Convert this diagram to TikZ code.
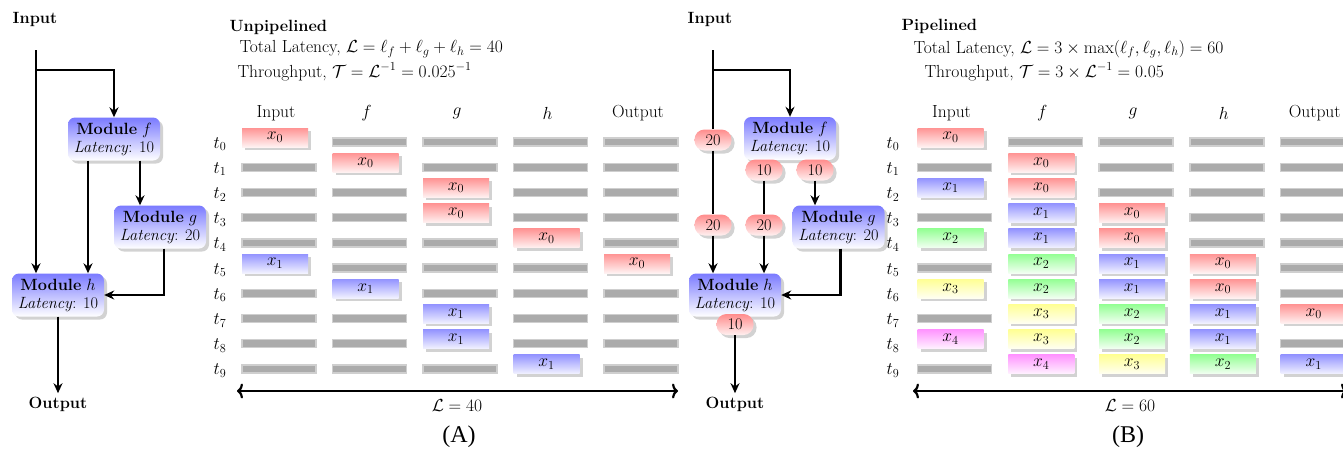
\RequirePackage{fix-cm}
\documentclass[tikz,border=0pt]{standalone}
\usepackage{fontspec}
\newfontfamily\capfont{Liberation Serif}
\usetikzlibrary{arrows.meta,shadows}
\newcommand{\basefont}{\fontsize{17.5}{19}\selectfont}
\newcommand{\modfont}{\fontsize{16.3}{18}\selectfont}
\tikzset{
  wire/.style={line width=2.6pt},
  conn/.style={wire, -{Stealth[length=10pt,width=9pt]}},
  shad/.style={drop shadow={shadow xshift=3pt, shadow yshift=-3pt, opacity=0.35}},
  module/.style={shad, rounded corners=7pt, top color=blue!52, bottom color=white,
    minimum width=92pt, minimum height=43pt, align=center, inner sep=3pt, font=\modfont},
  pill/.style={shad, rounded corners=10pt, top color=red!45, bottom color=red!6,
    minimum width=37pt, minimum height=21pt, inner sep=1pt, font=\modfont},
  bar/.style={fill=gray!66, draw=gray!38, line width=1.4pt, minimum width=74pt,
    minimum height=8pt, inner sep=0pt},
  tokbase/.style={shad, minimum width=66pt, minimum height=19pt, inner sep=0pt},
  tok/.style={tokbase, top color=#1!42, bottom color=#1!5},
  lbl/.style={font=\modfont\bfseries},
  span/.style={line width=2.2pt,
    {Computer Modern Rightarrow[length=6pt,width=15pt]}-{Computer Modern Rightarrow[length=6pt,width=15pt]}},
  panelcap/.style={font=\capfont\fontsize{24}{28}\selectfont},
}
\begin{document}
\begin{tikzpicture}[x=1pt, y=-1pt, font=\basefont]
\useasboundingbox[fill=white] (0,0) rectangle (1343,448);

% ---------------- Panel A: graph ----------------
\node[lbl] (inlA) at (35,19) {Input};
\node[module] (fA) at (114,139) {\textbf{Module} $f$\\\textit{Latency}: 10};
\node[module] (gA) at (160,227) {\textbf{Module} $g$\\\textit{Latency}: 20};
\node[module] (hA) at (58,295) {\textbf{Module} $h$\\\textit{Latency}: 10};
\node[lbl] (outA) at (58,404) {Output};
\coordinate (inA) at (36,50);
\coordinate (brA) at (36,70);
\draw[conn] (inA) -- (inA |- hA.north);
\draw[conn] (brA) -| (fA.north);
\draw[conn] ([xshift=-26pt]fA.south) -- ([xshift=-26pt]fA.south |- hA.north);
\draw[conn] ([xshift=26pt]fA.south) -- ([xshift=26pt]fA.south |- gA.north);
\draw[conn] ([xshift=4pt]gA.south) |- (hA.east);
\draw[conn] (hA.south) -- (outA.north);

% ---------------- Panel A: timeline ----------------
\node[lbl, anchor=west] (unp) at (226,27) {Unpipelined};
\node[anchor=west] (latA) at (236,49) {Total Latency, $\mathcal{L}=\ell_f+\ell_g+\ell_h=40$};
\node[anchor=west] (thrA) at (234,72) {Throughput, $\mathcal{T}=\mathcal{L}^{-1}=0.025^{-1}$};
\foreach \c/\t in {0/Input,1/$f$,2/$g$,3/$h$,4/Output}
  \node (hdA\c) at ({276+90.5*\c},113) {\t};
\foreach \r in {0,...,9}
  \node (tA\r) at (220,{144+25.2*\r}) {$t_{\r}$};
\foreach \c/\rows in {0/{1,2,3,4,6,7,8,9},1/{0,2,3,4,5,7,8,9},2/{0,1,4,5,6,9},3/{0,1,2,3,5,6,7,8},4/{0,1,2,3,4,6,7,8,9}}
  \foreach \r in \rows
    \node[bar] (barA\c-\r) at ({279+90.5*\c},{142+25.2*\r}) {};
\foreach \c/\r/\k/\i in {0/0/red/0,0/5/blue/1,1/1/red/0,1/6/blue/1,2/2/red/0,2/3/red/0,2/7/blue/1,2/8/blue/1,3/4/red/0,3/9/blue/1,4/5/red/0}
  \node[tok=\k] (tokA\c-\r) at ({275+90.5*\c},{137.5+25.2*\r}) {$x_{\i}$};
\coordinate (spA1) at (237,391);
\coordinate (spA2) at (678,391);
\draw[span] (spA1) -- (spA2);
\node (LA) at (457,406) {$\mathcal{L}=40$};
\node[panelcap] (capA) at (459,437) {(A)};

% ---------------- Panel B: graph ----------------
\node[lbl] (inlB) at (710,19) {Input};
\node[module] (fB) at (790,138.5) {\textbf{Module} $f$\\\textit{Latency}: 10};
\node[module] (gB) at (838.5,227) {\textbf{Module} $g$\\\textit{Latency}: 20};
\node[module] (hB) at (735,295) {\textbf{Module} $h$\\\textit{Latency}: 10};
\node[lbl] (outB) at (735,404) {Output};
\node[pill] (pa) at (713,140) {20};
\node[pill] (pb) at (713,225) {20};
\node[pill] (pf1) at (764,170) {10};
\node[pill] (pf2) at (815,170) {10};
\node[pill] (pm) at (764,225) {20};
\node[pill] (ph) at (735,324.5) {10};
\coordinate (inB) at (713,50);
\coordinate (brB) at (713,70);
\draw[wire] (inB) -- (pa.north);
\draw[wire] (pa.south) -- (pb.north);
\draw[conn] (pb.south) -- (pb.south |- hB.north);
\draw[conn] (brB) -| (fB.north);
\draw[wire] (pf1.south) -- (pm.north);
\draw[conn] (pm.south) -- (pm.south |- hB.north);
\draw[conn] (pf2.south) -- (pf2.south |- gB.north);
\draw[conn] ([xshift=2pt]gB.south) |- (hB.east);
\draw[conn] (ph.south) -- (outB.north);

% ---------------- Panel B: timeline ----------------
\node[lbl, anchor=west] (pip) at (898,26) {Pipelined};
\node[anchor=west] (latB) at (910,49) {Total Latency, $\mathcal{L}=3\times\max(\ell_f,\ell_g,\ell_h)=60$};
\node[anchor=west] (thrB) at (921,72) {Throughput, $\mathcal{T}=3\times\mathcal{L}^{-1}=0.05$};
\foreach \c/\t in {0/Input,1/$f$,2/$g$,3/$h$,4/Output}
  \node (hdB\c) at ({951.5+90.8*\c},113) {\t};
\foreach \r in {0,...,9}
  \node (tB\r) at (893,{144+25.2*\r}) {$t_{\r}$};
\foreach \c/\rows in {0/{1,3,5,7,9},1/{0},2/{0,1,2},3/{0,1,2,3,4},4/{0,1,2,3,4,5,6,8}}
  \foreach \r in \rows
    \node[bar] (barB\c-\r) at ({954.5+90.8*\c},{142+25.2*\r}) {};
\foreach \c/\r/\k/\i in {0/0/red/0,0/2/blue/1,0/4/green/2,0/6/yellow/3,0/8/magenta/4,
  1/1/red/0,1/2/red/0,1/3/blue/1,1/4/blue/1,1/5/green/2,1/6/green/2,1/7/yellow/3,1/8/yellow/3,1/9/magenta/4,
  2/3/red/0,2/4/red/0,2/5/blue/1,2/6/blue/1,2/7/green/2,2/8/green/2,2/9/yellow/3,
  3/5/red/0,3/6/red/0,3/7/blue/1,3/8/blue/1,3/9/green/2,
  4/7/red/0,4/9/blue/1}
  \node[tok=\k] (tokB\c-\r) at ({950.5+90.8*\c},{137.5+25.2*\r}) {$x_{\i}$};
\coordinate (spB1) at (913,391);
\coordinate (spB2) at (1347,391);
\draw[span] (spB1) -- (spB2);
\node (LB) at (1130,406) {$\mathcal{L}=60$};
\node[panelcap] (capB) at (1128,437) {(B)};
\end{tikzpicture}
\end{document}
